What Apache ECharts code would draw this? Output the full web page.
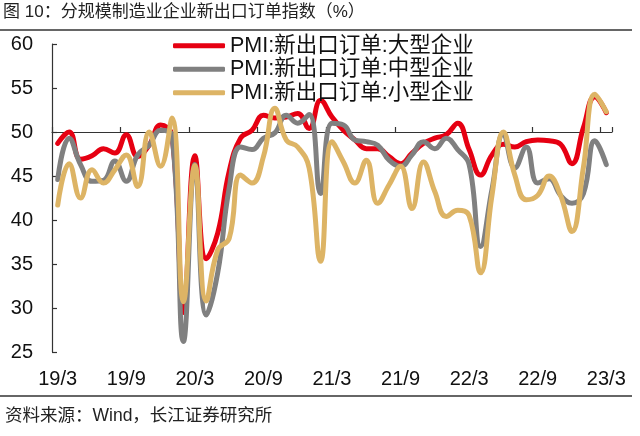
<!DOCTYPE html>
<html>
<head>
<meta charset="utf-8">
<script src="https://cdn.jsdelivr.net/npm/echarts@6/dist/echarts.min.js"></script>
<style>
html,body{margin:0;padding:0;background:#fff;}
#chart{width:640px;height:436px;}
</style>
</head>
<body>
<div id="chart"></div>
<script>
// Months 2019/3 .. 2023/3
const categories = [];
for (let y = 2019, m = 3; y < 2023 || (y === 2023 && m <= 3); ) {
  categories.push(String(y).slice(2) + '/' + m);
  m++; if (m > 12) { m = 1; y++; }
}
const seriesNames = ['PMI:新出口订单:大型企业', 'PMI:新出口订单:中型企业', 'PMI:新出口订单:小型企业'];
const large = [48.7,50.0,46.9,47.3,48.1,47.6,49.7,47.2,48.5,50.8,49.6,29.5,47.3,35.6,38.5,45.5,49.3,50.2,51.9,51.6,51.7,52.1,50.4,53.6,51.7,50.2,49.1,48.1,48.1,47.2,46.4,47.6,48.7,49.3,49.7,51.0,48.0,45.1,47.4,48.6,48.3,48.9,49.1,49.0,48.6,46.4,50.5,54.0,52.2];
const medium = [44.6,49.3,46.3,44.4,44.5,46.7,44.4,47.4,48.5,50.2,49.6,26.2,46.3,29.2,34.0,43.6,48.3,48.0,49.3,49.9,51.9,51.0,52.0,43.0,51.0,50.8,49.1,48.9,48.5,46.8,46.1,47.4,48.9,48.1,49.3,48.0,46.3,37.0,43.5,49.8,45.9,48.3,44.2,44.7,42.8,41.9,43.0,49.0,46.3];
const small = [41.7,46.4,42.5,45.7,44.2,45.7,47.4,43.8,50.0,46.1,51.6,30.7,46.2,30.8,36.6,37.9,45.1,44.2,47.2,52.7,49.1,48.3,45.9,35.3,48.9,46.6,44.2,46.8,41.9,44.0,46.1,41.3,46.6,43.2,40.4,41.1,40.5,34.0,42.8,50.0,45.1,42.3,42.8,45.0,42.8,38.7,46.0,54.3,52.3];
const yMin = 25, yMax = 60, yStep = 5;
const refLevel = 50;
const titleText = '图 10：分规模制造业企业新出口订单指数（%）';
const sourceText = '资料来源：Wind，长江证券研究所';

const FONT = "'Liberation Sans', Arial, 'Noto Sans CJK SC', sans-serif";
const colors = ['#E60012', '#808080', '#DDB465'];

const chart = echarts.init(document.getElementById('chart'), null, {renderer: 'canvas'});
const gridTop = 44, gridBottomPx = 352;
const refOffset = -((refLevel - yMin) / (yMax - yMin)) * (gridBottomPx - gridTop);

const option = {
  backgroundColor: '#fff',
  animation: false,
  textStyle: {fontFamily: FONT},
  grid: {left: 52, right: 28, top: gridTop, bottom: 436 - gridBottomPx, containLabel: false},
  legend: {
    orient: 'vertical', left: 168, top: 30,
    itemWidth: 52, itemHeight: 5, itemGap: 2,
    icon: 'roundRect',
    textStyle: {fontSize: 21.5, color: '#111', fontFamily: FONT},
    data: seriesNames
  },
  xAxis: [{
    type: 'category', data: categories, boundaryGap: true,
    axisLine: {show: false}, axisTick: {show: false},
    axisLabel: {interval: 5, fontSize: 20, color: '#111', margin: 17, fontFamily: FONT}
  }, {
    type: 'category', data: categories, boundaryGap: true, position: 'bottom',
    offset: refOffset,
    axisLine: {show: true, lineStyle: {color: '#333', width: 1.2}},
    axisTick: {show: true, inside: true, interval: 5, length: 5, lineStyle: {color: '#333', width: 1.2}},
    axisLabel: {show: false}
  }],
  yAxis: {
    type: 'value', min: yMin, max: yMax, interval: yStep,
    axisLine: {show: true, lineStyle: {color: '#333', width: 1.2}},
    axisTick: {show: true, inside: true, length: 5, lineStyle: {color: '#333', width: 1.2}},
    splitLine: {show: false},
    axisLabel: {fontSize: 20, color: '#111', margin: 19, fontFamily: FONT}
  },
  series: [large, medium, small].map((d, i) => ({
    name: seriesNames[i], type: 'line', data: d, xAxisIndex: 0,
    smooth: 0.45, symbol: 'none',
    lineStyle: {color: colors[i], width: 5, cap: 'round', join: 'round'},
    itemStyle: {color: colors[i]},
    z: 2 + i
  })),
  graphic: [
    {type: 'text', left: 3, top: 4, style: {text: titleText, fontSize: 17, fill: '#222', fontFamily: FONT}},
    {type: 'line', shape: {x1: 0, y1: 30, x2: 632, y2: 30}, style: {stroke: '#333', lineWidth: 1.3}},
    {type: 'line', shape: {x1: 0, y1: 396, x2: 632, y2: 396}, style: {stroke: '#333', lineWidth: 1.3}},
    {type: 'text', left: 5, top: 407, style: {text: sourceText, fontSize: 17.5, fill: '#222', fontFamily: FONT}}
  ]
};
chart.setOption(option);
</script>
</body>
</html>
